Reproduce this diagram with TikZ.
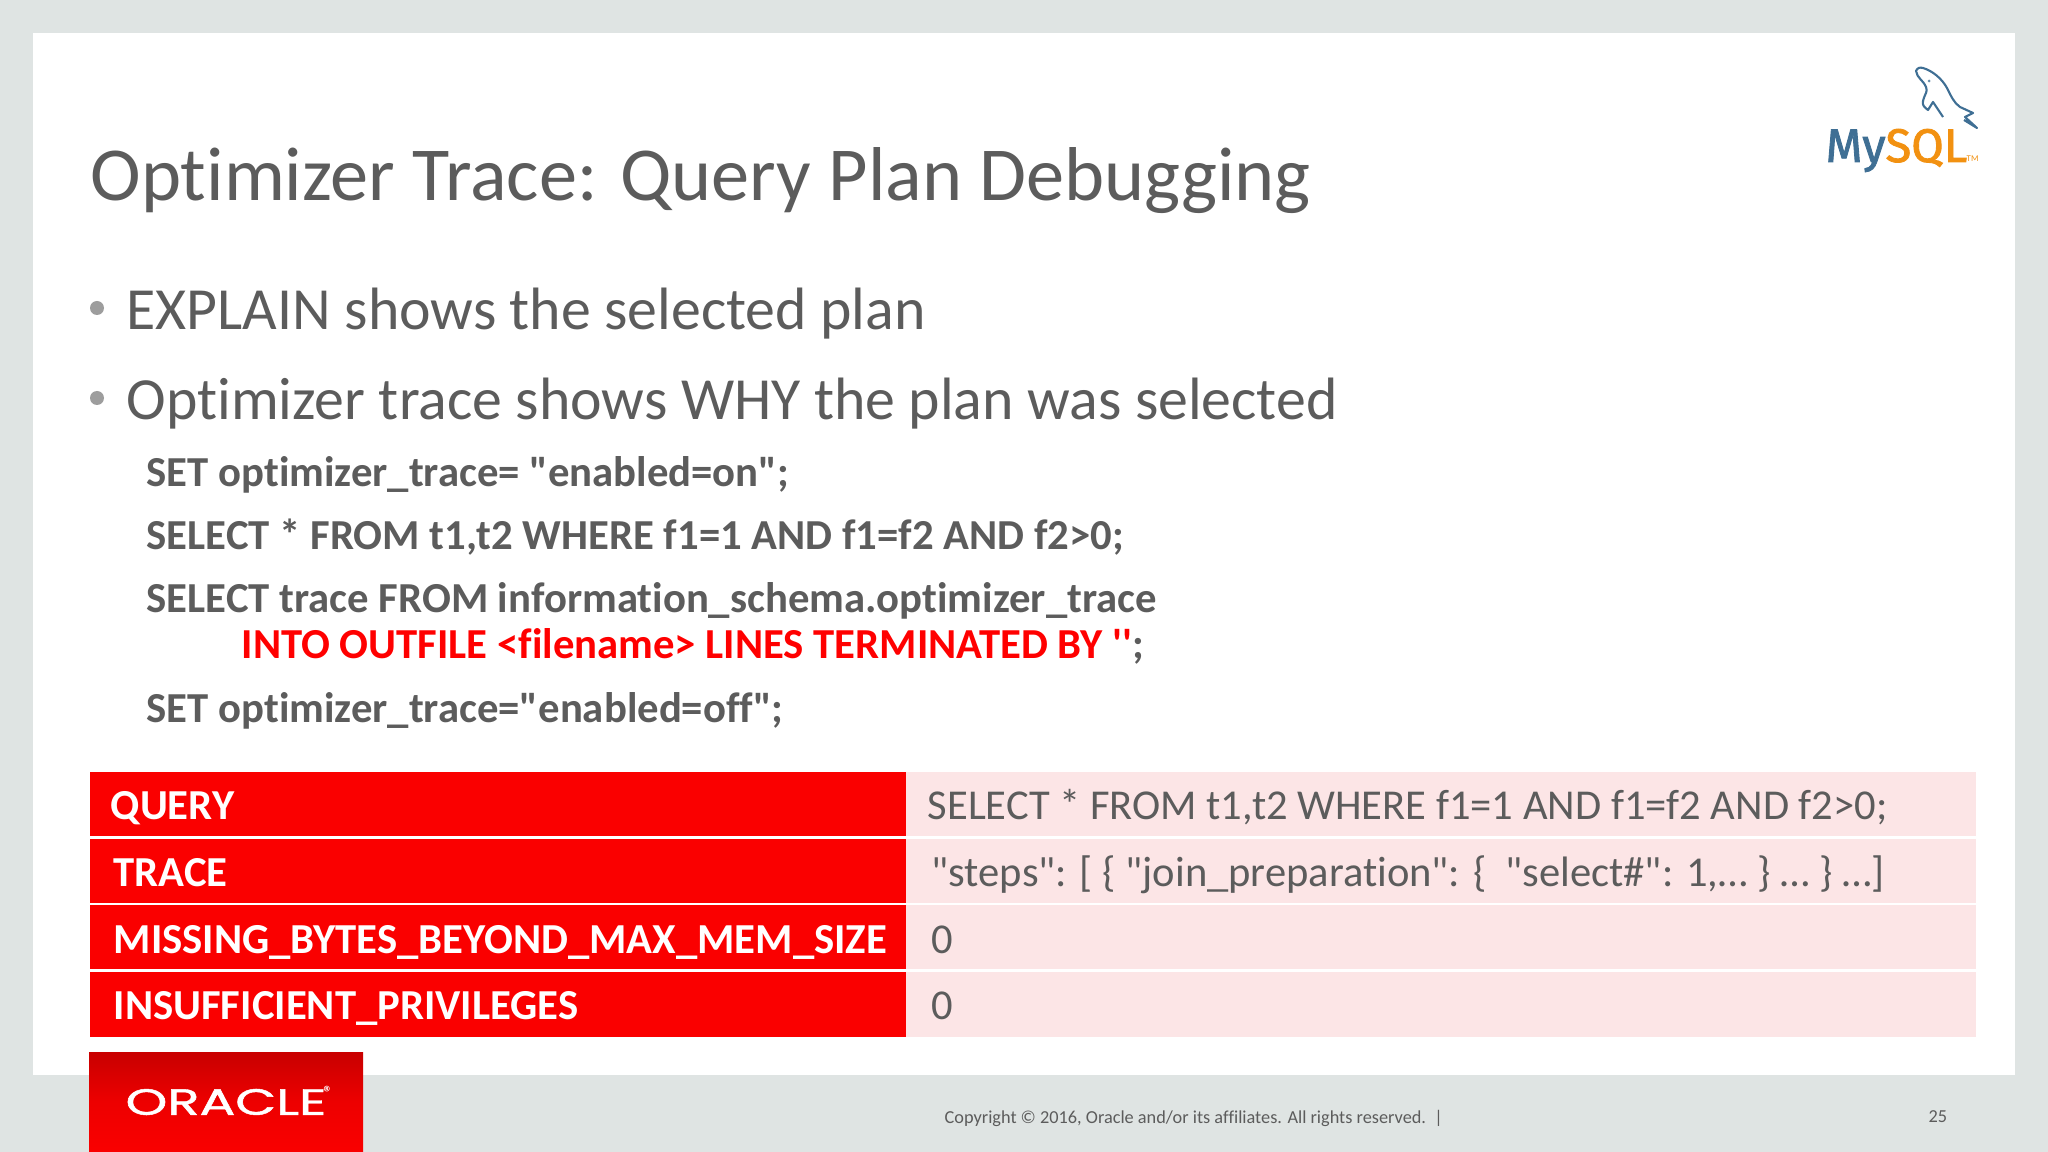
\documentclass[tikz,border=0pt]{standalone}
\usepackage{fontspec}
\usepackage{xcolor}
\setmainfont{Carlito}[Ligatures={TeXOff,CommonOff}]
\newfontfamily\logofont[FakeBold=1.2]{Poppins}
\newfontfamily\mysqlfont[FakeBold=1.8]{Fira Sans}
\definecolor{slidebg}{HTML}{DFE4E3}
\definecolor{slidegray}{HTML}{5C5C5C}
\definecolor{oraclered}{HTML}{FA0000}
\definecolor{cellpink}{HTML}{FCE5E6}
\definecolor{mysqlblue}{HTML}{3F6F94}
\definecolor{mysqlorange}{HTML}{F29111}
\tikzset{
    txt/.style={anchor=base west, inner sep=0pt, text=slidegray},
    titletxt/.style={txt, font=\fontsize{21.7}{26}\selectfont},
    bullettxt/.style={txt, font=\fontsize{17}{20}\selectfont},
    codetxt/.style={txt, font=\fontsize{12.15}{14}\selectfont\bfseries},
    headtxt/.style={txt, text=white, font=\fontsize{12.15}{14}\selectfont\bfseries},
    celltxt/.style={txt, font=\fontsize{12.1}{14}\selectfont},
    foottxt/.style={txt, font=\fontsize{5.2}{6}\selectfont}
}
\begin{document}
\begin{tikzpicture}[x=0.01cm, y=-0.01cm]
    \useasboundingbox(0, 0) rectangle (2048, 1152);
    \fill[slidebg](0, 0) rectangle (2048, 1152);
    \fill[white](33, 33) rectangle (2015, 1075);

    \node[titletxt](title) at (90, 201){Optimizer Trace: Query Plan Debugging};

    \fill[slidegray!60](97, 308) circle(7);
    \fill[slidegray!60](97, 398) circle(7);
    \node[bullettxt](explain) at (126, 330){EXPLAIN shows the selected plan};
    \node[bullettxt](why) at (126, 420){Optimizer trace shows WHY the plan was selected};

    \node[codetxt](setOn) at (146, 487){SET optimizer\_trace= "enabled=on";};
    \node[codetxt](selectQ) at (146, 550){SELECT * FROM t1,t2 WHERE f1=1 AND f1=f2 AND f2>0;};
    \node[codetxt](selectT) at (146, 613){SELECT trace FROM information\_schema.optimizer\_trace};
    \node[codetxt, text=red](outfile) at (241, 659){INTO OUTFILE <filename> LINES TERMINATED BY ''\textcolor{slidegray}{;}};
    \node[codetxt](setOff) at (146, 722){SET optimizer\_trace="enabled=off";};

    % table
    \fill[oraclered](90, 772) rectangle (906, 836);
    \fill[oraclered](90, 839) rectangle (906, 903);
    \fill[oraclered](90, 905) rectangle (906, 969);
    \fill[oraclered](90, 972) rectangle (906, 1037);
    \fill[cellpink](906, 772) rectangle (1976, 836);
    \fill[cellpink](906, 839) rectangle (1976, 903);
    \fill[cellpink](906, 905) rectangle (1976, 969);
    \fill[cellpink](906, 972) rectangle (1976, 1037);

    \node[headtxt](query) at (110, 819){QUERY};
    \node[headtxt](trace) at (113, 886){TRACE};
    \node[headtxt](missing) at (113, 953){MISSING\_BYTES\_BEYOND\_MAX\_MEM\_SIZE};
    \node[headtxt](insuff) at (113, 1019){INSUFFICIENT\_PRIVILEGES};

    \node[celltxt](queryVal) at (927, 819){SELECT * FROM t1,t2 WHERE f1=1 AND f1=f2 AND f2>0;};
    \node[celltxt](traceVal) at (931, 886){"steps": [ \{ "join\_preparation": \{\ \ "select\#": 1,… \} … \} …]};
    \node[celltxt](missingVal) at (931, 953){0};
    \node[celltxt](insuffVal) at (931, 1019){0};

    % oracle logo
    \fill[top color=oraclered!80!black, bottom color=oraclered, middle color=oraclered!95!black](89, 1052) rectangle (363, 1152);
    \node[anchor=center, inner sep=0pt, text=white, font=\logofont\fontsize{10.4}{12}\selectfont, xscale=1.45](oracle) at (226, 1102){ORACLE};
    \node[anchor=center, inner sep=0pt, text=white, font=\bfseries\fontsize{5}{6}\selectfont](reg) at (328, 1092){®};

    \node[foottxt](copyright) at (944, 1123){Copyright © 2016, Oracle and/or its affiliates. All rights reserved.\ \ |};
    \node[foottxt](page) at (1928, 1122){25};

    % mysql logo
    \draw[mysqlblue, line width=0.6pt, line join=round](1943, 117)
        -- (1933, 102)
        -- (1928, 110)
        .. controls (1924, 107) and (1922, 105) .. (1923, 101)
        .. controls (1925, 93) and (1928, 92) .. (1926, 87)
        .. controls (1923, 80) and (1917, 78) .. (1916, 71)
        .. controls (1917, 68) and (1920, 67) .. (1923, 68)
        .. controls (1933, 71) and (1942, 79) .. (1947, 88)
        .. controls (1951, 96) and (1954, 103) .. (1960, 107)
        -- (1973, 113)
        -- (1965, 117)
        -- (1977, 128)
        -- (1964, 120);
    \fill[mysqlblue!80](1929, 81) circle(1.5);
    \node[anchor=base west, inner sep=0pt, font=\mysqlfont\fontsize{13.4}{16}\selectfont, text=mysqlblue](mysql) at (1825, 162){My\textcolor{mysqlorange}{SQL}};
    \node[anchor=base west, inner sep=0pt, font=\fontsize{2.5}{3}\selectfont, text=mysqlorange](tm) at (1966, 162){TM};
\end{tikzpicture}
\end{document}
